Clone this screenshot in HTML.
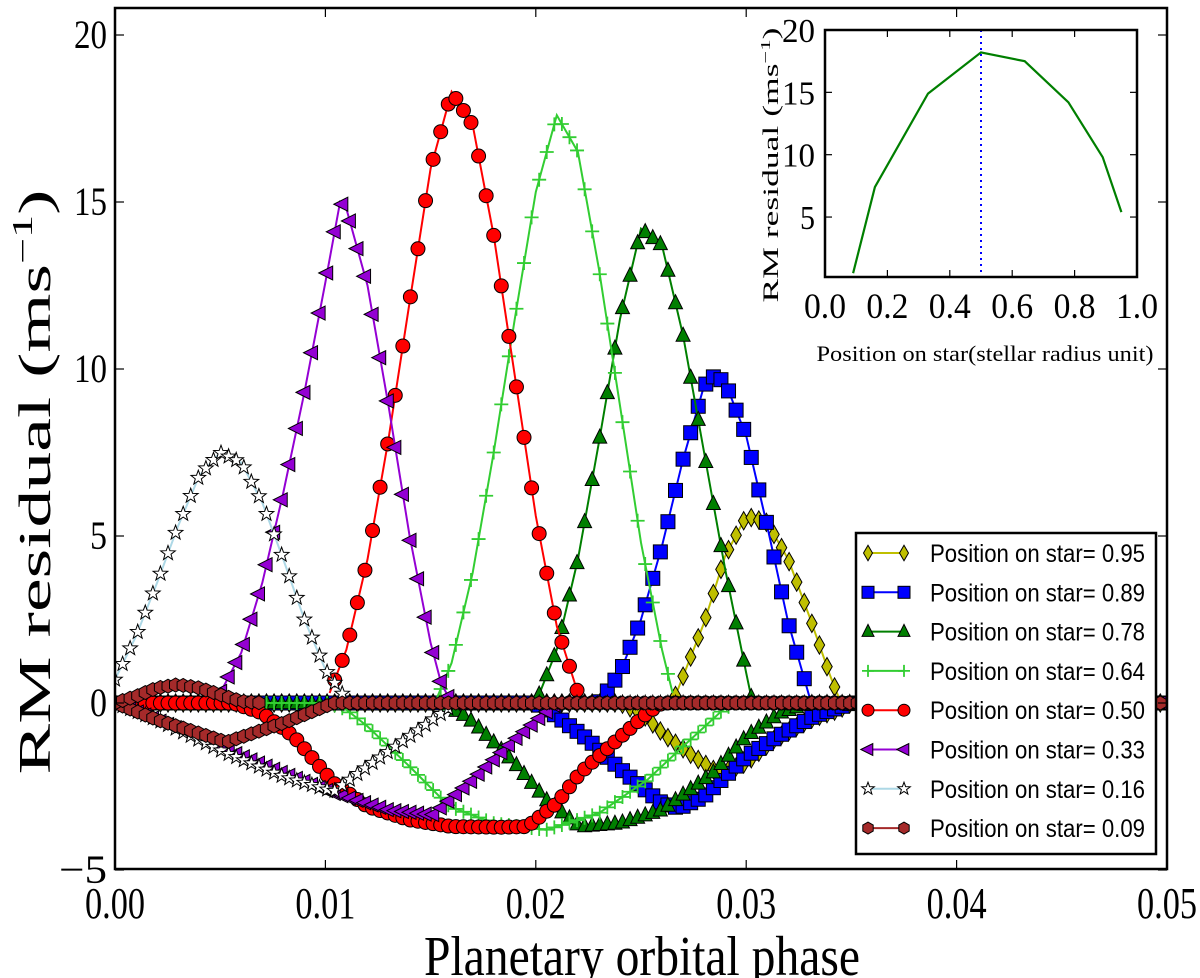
<!DOCTYPE html>
<html><head><meta charset="utf-8"><style>
html,body{margin:0;padding:0;background:#fff;}
svg{display:block;}
</style></head><body>
<svg id="chart" width="1200" height="978" viewBox="0 0 1200 978" xmlns="http://www.w3.org/2000/svg">
<rect x="0" y="0" width="1200" height="978" fill="#fff"/>
<g id="main-series"></g>
<g id="main-axes"></g>
<g id="inset"></g>
<g id="legend"></g>
</svg>
<script>
// ---------- data ----------
const xTicks = [0.00, 0.01, 0.02, 0.03, 0.04, 0.05];
const xTickLabels = ["0.00", "0.01", "0.02", "0.03", "0.04", "0.05"];
const yTicks = [-5, 0, 5, 10, 15, 20];
const yTickLabels = ["\u22125", "0", "5", "10", "15", "20"];

const seriesNames = ["0.95", "0.89", "0.78", "0.64", "0.50", "0.33", "0.16", "0.09"];

const bumpX_095 = [0.0265,0.027,0.028,0.029,0.030,0.031,0.032,0.033,0.034,0.0345];
const bumpY_095 = [0,0.8,2.4,4.4,5.6,5.4,4.3,2.6,0.8,0];
const dipX_095 = [0,0.024,0.025,0.0262,0.0275,0.0287,0.030,0.0313,0.033,0.0344,0.035,0.05];
const dipY_095 = [0,0,-0.3,-1.0,-1.6,-2.1,-1.8,-1.1,-0.5,-0.2,0,0];

const bumpX_089 = [0.023,0.024,0.025,0.026,0.027,0.028,0.0285,0.029,0.030,0.031,0.032,0.033];
const bumpY_089 = [0,0.9,2.5,4.7,7.3,9.5,9.8,9.6,8.0,5.3,2.4,0.2];
const dipX_089 = [0,0.020,0.021,0.0225,0.0237,0.025,0.026,0.0268,0.028,0.030,0.0315,0.0332,0.035,0.05];
const dipY_089 = [0,0,-0.4,-1.1,-1.8,-2.5,-3.0,-3.15,-2.8,-1.6,-1.0,-0.4,0,0];

const bumpX_078 = [0.020,0.021,0.022,0.023,0.024,0.025,0.026,0.027,0.028,0.029,0.030,0.0303];
const bumpY_078 = [0,1.6,4.3,7.8,11.5,14.2,13.7,11.0,7.5,4.0,0.9,0];
const dipX_078 = [0,0.0155,0.0167,0.0174,0.019,0.0205,0.0221,0.024,0.026,0.0284,0.030,0.0316,0.033,0.05];
const dipY_078 = [0,0,-0.4,-0.8,-1.8,-2.9,-3.7,-3.6,-3.2,-2.1,-1.0,-0.3,0,0];

const bumpX_064 = [0.0152,0.016,0.017,0.018,0.019,0.020,0.021,0.022,0.023,0.024,0.025,0.026,0.0265];
const bumpY_064 = [0,1.2,3.9,7.5,11.5,15.3,17.6,16.5,13.0,8.9,4.8,1.6,0.3];
const dipX_064 = [0,0.0101,0.011,0.012,0.014,0.0159,0.018,0.0205,0.023,0.0253,0.027,0.0289,0.0295,0.05];
const dipY_064 = [0,0,-0.2,-0.7,-1.9,-3.1,-3.6,-3.8,-3.3,-2.3,-1.3,-0.2,0,0];

const bumpX_050 = [0.0102,0.011,0.012,0.013,0.014,0.015,0.016,0.017,0.018,0.019,0.020,0.021,0.022];
const bumpY_050 = [0.3,1.6,4.3,7.9,12.0,16.0,18.3,17.3,14.0,9.8,5.6,2.3,0.3];
const dipX_050 = [0,0.0056,0.007,0.0085,0.0104,0.012,0.014,0.016,0.0183,0.0196,0.021,0.0221,0.0237,0.0253,0.026,0.05];
const dipY_050 = [0,0,-0.3,-1.0,-2.4,-3.1,-3.5,-3.7,-3.72,-3.7,-3.0,-2.1,-1.2,-0.3,0,0];

const bumpX_033 = [0.005,0.006,0.007,0.008,0.009,0.010,0.0107,0.011,0.012,0.013,0.014,0.015,0.0155,0.016];
const bumpY_033 = [0.3,1.5,3.6,6.3,9.3,12.6,15.0,14.8,12.5,8.9,5.0,1.8,0.6,0];
const dipX_033 = [0,0.002,0.0053,0.008,0.0104,0.013,0.0151,0.017,0.019,0.021,0.05];
const dipY_033 = [0,-0.5,-1.4,-2.1,-2.7,-3.2,-3.35,-2.3,-1.1,0,0];

const bumpX_016 = [0,0.001,0.002,0.003,0.004,0.005,0.006,0.007,0.008,0.009,0.010,0.011];
const bumpY_016 = [0.7,2.0,3.6,5.3,6.8,7.5,7.2,6.0,4.3,2.5,1.0,0.1];
const dipX_016 = [0,0.002,0.0053,0.008,0.0104,0.012,0.014,0.0162,0.05];
const dipY_016 = [0,-0.5,-1.5,-2.2,-2.65,-1.9,-1.0,0,0];

const bumpX_009 = [0,0.001,0.002,0.003,0.004,0.005,0.006,0.007];
const bumpY_009 = [0,0.2,0.45,0.55,0.45,0.25,0.05,0];
const dipX_009 = [0,0.002,0.0053,0.008,0.0104,0.05];
const dipY_009 = [0,-0.5,-1.17,-0.6,0,0];

// inset data
const insetPositions = [0.09,0.16,0.33,0.50,0.64,0.78,0.89,0.95];
const insetResiduals = [0.5,7.4,14.9,18.2,17.5,14.2,9.8,5.4];
const insetXTicks = [0.0,0.2,0.4,0.6,0.8,1.0];
const insetXTickLabels = ["0.0","0.2","0.4","0.6","0.8","1.0"];
const insetYTicks = [5,10,15,20];
const insetYTickLabels = ["5","10","15","20"];
const insetMarkerLine = 0.5;

// ---------- helpers ----------
const NS = "http://www.w3.org/2000/svg";
function mk(tag, attrs, parent){const e=document.createElementNS(NS,tag);for(const k in attrs)e.setAttribute(k,attrs[k]);if(parent)parent.appendChild(e);return e;}

const PX0=115, PX1=1167, PY_TOP=8, PY_BOT=869;
const XMIN=0, XMAX=0.05;
const yPerUnit = 33.4;
function sx(v){return PX0 + (v-XMIN)/(XMAX-XMIN)*(PX1-PX0);}
function sy(v){return 35 + (20-v)*yPerUnit;}

const styles = {
 "0.95":{color:"#bfbf00",marker:"diamond",mfill:"#bfbf00"},
 "0.89":{color:"#0000ff",marker:"square",mfill:"#0000ff"},
 "0.78":{color:"#007f00",marker:"triup",mfill:"#007f00"},
 "0.64":{color:"#32cd32",marker:"plus",mfill:"#32cd32"},
 "0.50":{color:"#ff0000",marker:"circle",mfill:"#ff0000"},
 "0.33":{color:"#9400d3",marker:"trileft",mfill:"#9400d3"},
 "0.16":{color:"#add8e6",marker:"star",mfill:"#ffffff"},
 "0.09":{color:"#a52a2a",marker:"hexagon",mfill:"#a52a2a"}
};
const dataMap = {
 "0.95":[bumpX_095,bumpY_095,dipX_095,dipY_095],
 "0.89":[bumpX_089,bumpY_089,dipX_089,dipY_089],
 "0.78":[bumpX_078,bumpY_078,dipX_078,dipY_078],
 "0.64":[bumpX_064,bumpY_064,dipX_064,dipY_064],
 "0.50":[bumpX_050,bumpY_050,dipX_050,dipY_050],
 "0.33":[bumpX_033,bumpY_033,dipX_033,dipY_033],
 "0.16":[bumpX_016,bumpY_016,dipX_016,dipY_016],
 "0.09":[bumpX_009,bumpY_009,dipX_009,dipY_009]
};

function drawMarker(g, type, x, y, fill, s){
  let e;
  const st = "#000";
  if(type==="circle"){ e=mk("circle",{cx:x,cy:y,r:s,fill:fill,stroke:st,"stroke-width":1},g); }
  else if(type==="square"){ e=mk("rect",{x:x-s,y:y-s,width:2*s,height:2*s,fill:fill,stroke:st,"stroke-width":1},g); }
  else if(type==="diamond"){ e=mk("polygon",{points:`${x},${y-s*1.3} ${x+s*0.75},${y} ${x},${y+s*1.3} ${x-s*0.75},${y}`,fill:fill,stroke:st,"stroke-width":1},g); }
  else if(type==="triup"){ e=mk("polygon",{points:`${x},${y-s*1.2} ${x+s},${y+s*0.8} ${x-s},${y+s*0.8}`,fill:fill,stroke:st,"stroke-width":1},g); }
  else if(type==="trileft"){ e=mk("polygon",{points:`${x-s*1.2},${y} ${x+s*0.8},${y-s} ${x+s*0.8},${y+s}`,fill:fill,stroke:st,"stroke-width":1},g); }
  else if(type==="plus"){ e=mk("path",{d:`M${x-s},${y}H${x+s}M${x},${y-s}V${y+s}`,stroke:fill,"stroke-width":1.8,fill:"none"},g); }
  else if(type==="hexagon"){ let p=[];for(let i=0;i<6;i++){const a=Math.PI/3*i+Math.PI/6;p.push((x+s*Math.cos(a)).toFixed(1)+","+(y+s*Math.sin(a)).toFixed(1));} e=mk("polygon",{points:p.join(" "),fill:fill,stroke:st,"stroke-width":1},g); }
  else if(type==="star"){ let p=[];for(let i=0;i<10;i++){const r=i%2?s*0.45:s*1.1;const a=-Math.PI/2+Math.PI/5*i;p.push((x+r*Math.cos(a)).toFixed(1)+","+(y+r*Math.sin(a)).toFixed(1));} e=mk("polygon",{points:p.join(" "),fill:fill,stroke:st,"stroke-width":1},g); }
  return e;
}

function interp(xs, ys, x){
  for(let i=0;i<xs.length-1;i++){ if(x>=xs[i] && x<=xs[i+1]){const t=(xs[i+1]===xs[i])?0:(x-xs[i])/(xs[i+1]-xs[i]);return ys[i]+t*(ys[i+1]-ys[i]);} }
  return null;
}

// ---------- main series ----------
const gS = document.getElementById("main-series");
const clipDef = mk("defs",{},gS);
const cp = mk("clipPath",{id:"plotclip"},clipDef);
mk("rect",{x:PX0,y:PY_TOP,width:PX1-PX0,height:PY_BOT-PY_TOP},cp);
const gClip = mk("g",{"clip-path":"url(#plotclip)"},gS);
const STEP = 0.00036;
seriesNames.forEach(name=>{
  const st = styles[name];
  const [bx,by,dx,dy] = dataMap[name];
  const g = mk("g",{},gClip);
  
  
  [[dx,dy,"dip"],[bx,by,"bump"]].forEach(([xs,ys,part])=>{
    const d = xs.map((v,i)=>(i?"L":"M")+sx(v).toFixed(1)+","+sy(ys[i]).toFixed(1)).join("");
    const line = mk("path",{d:d,fill:"none",stroke:st.color,"stroke-width":2},g);
    
    
    const mg = mk("g",{},g);
    
    
    const x0 = xs[0], x1 = xs[xs.length-1];
    for(let x = Math.ceil(x0/STEP)*STEP; x<=x1+1e-9; x+=STEP){
      const y = interp(xs,ys,x);
      if(y===null) continue;
      drawMarker(mg, st.marker, sx(x), sy(y), st.mfill, 7);
    }
  });
});

// ---------- main axes ----------
const gA = document.getElementById("main-axes");
const frame = mk("rect",{x:PX0,y:PY_TOP,width:PX1-PX0,height:PY_BOT-PY_TOP,fill:"none",stroke:"#000","stroke-width":2.5},gA);


xTicks.forEach((v,i)=>{
  const x = sx(v);
  mk("line",{x1:x,y1:PY_BOT,x2:x,y2:PY_BOT-9,stroke:"#000","stroke-width":1.2},gA);
  mk("line",{x1:x,y1:PY_TOP,x2:x,y2:PY_TOP+9,stroke:"#000","stroke-width":1.2},gA);
  const t = mk("text",{x:x,y:918,"text-anchor":"middle","font-family":"Liberation Serif, serif","font-size":44,textLength:60,lengthAdjust:"spacingAndGlyphs"},gA);
  t.textContent = xTickLabels[i];
  
  
});
yTicks.forEach((v,i)=>{
  const y = sy(v);
  mk("line",{x1:PX0,y1:y,x2:PX0+9,y2:y,stroke:"#000","stroke-width":1.2},gA);
  mk("line",{x1:PX1,y1:y,x2:PX1-9,y2:y,stroke:"#000","stroke-width":1.2},gA);
  const lbl = yTickLabels[i];
  const t = mk("text",{x:107,y:y+13,"text-anchor":"end","font-family":"Liberation Serif, serif","font-size":40,textLength:lbl.length>1?(lbl==="\u22125"?48:33):17,lengthAdjust:"spacingAndGlyphs"},gA);
  t.textContent = lbl;
  
  
});
const xt = mk("text",{x:642,y:975,"text-anchor":"middle","font-family":"Liberation Serif, serif","font-size":56,textLength:436,lengthAdjust:"spacingAndGlyphs"},gA);
xt.textContent = "Planetary orbital phase";


const yt = mk("text",{x:0,y:0,"text-anchor":"middle","font-family":"Liberation Serif, serif","font-size":46,textLength:585,lengthAdjust:"spacingAndGlyphs",transform:"translate(50,482) rotate(-90)"},gA);
yt.innerHTML = 'RM residual (ms<tspan font-size="28" dy="-18">\u22121</tspan><tspan dy="18">)</tspan>';



// ---------- inset ----------
const gI = document.getElementById("inset");


const IX0=825, IX1=1137, IY0=30, IY1=277;
function ix(v){return IX0 + v*(IX1-IX0);}
function iy(v){return IY0 + (20-v)*12.47;}
mk("rect",{x:IX0,y:IY0,width:IX1-IX0,height:IY1-IY0,fill:"#fff",stroke:"none"},gI);
const il = mk("polyline",{points:insetPositions.map((p,i)=>ix(p).toFixed(1)+","+iy(insetResiduals[i]).toFixed(1)).join(" "),fill:"none",stroke:"#007f00","stroke-width":2.2},gI);


const vl = mk("line",{x1:ix(insetMarkerLine),y1:IY0,x2:ix(insetMarkerLine),y2:IY1,stroke:"#0000ff","stroke-width":2,"stroke-dasharray":"2,4"},gI);


const iframe = mk("rect",{x:IX0,y:IY0,width:IX1-IX0,height:IY1-IY0,fill:"none",stroke:"#000","stroke-width":2.5},gI);


insetXTicks.forEach((v,i)=>{
  const x = ix(v);
  mk("line",{x1:x,y1:IY1,x2:x,y2:IY1-7,stroke:"#000","stroke-width":1.2},gI);
  mk("line",{x1:x,y1:IY0,x2:x,y2:IY0+7,stroke:"#000","stroke-width":1.2},gI);
  const t = mk("text",{x:x,y:318,"text-anchor":"middle","font-family":"Liberation Serif, serif","font-size":36,textLength:42,lengthAdjust:"spacingAndGlyphs"},gI);
  t.textContent = insetXTickLabels[i];
  
  
});
insetYTicks.forEach((v,i)=>{
  const y = iy(v);
  mk("line",{x1:IX0,y1:y,x2:IX0+7,y2:y,stroke:"#000","stroke-width":1.2},gI);
  mk("line",{x1:IX1,y1:y,x2:IX1-7,y2:y,stroke:"#000","stroke-width":1.2},gI);
  const lbl = insetYTickLabels[i];
  const t = mk("text",{x:815,y:y+12,"text-anchor":"end","font-family":"Liberation Serif, serif","font-size":34,textLength:lbl.length>1?33:15,lengthAdjust:"spacingAndGlyphs"},gI);
  t.textContent = lbl;
  
  
});
const ixt = mk("text",{x:985,y:361,"text-anchor":"middle","font-family":"Liberation Serif, serif","font-size":22,textLength:337,lengthAdjust:"spacingAndGlyphs"},gI);
ixt.textContent = "Position on star(stellar radius unit)";


const iyt = mk("text",{x:0,y:0,"text-anchor":"middle","font-family":"Liberation Serif, serif","font-size":22,textLength:275,lengthAdjust:"spacingAndGlyphs",transform:"translate(778,165) rotate(-90)"},gI);
iyt.innerHTML = 'RM residual (ms<tspan font-size="14" dy="-8">\u22121</tspan><tspan dy="8">)</tspan>';



// ---------- legend ----------
const gL = document.getElementById("legend");


mk("rect",{x:856,y:533,width:300,height:321,fill:"#fff",stroke:"#000","stroke-width":2.5},gL);
seriesNames.forEach((name,i)=>{
  const st = styles[name];
  const y = 553 + i*39.3;
  const eg = mk("g",{},gL);
  
  
  mk("line",{x1:868,y1:y,x2:904,y2:y,stroke:st.color,"stroke-width":2},eg);
  drawMarker(eg, st.marker, 868, y, st.mfill, 6);
  drawMarker(eg, st.marker, 904, y, st.mfill, 6);
  const t = mk("text",{x:930,y:y+9,"font-family":"Liberation Sans, sans-serif","font-size":25,textLength:215,lengthAdjust:"spacingAndGlyphs"},eg);
  t.textContent = "Position on star= " + name;
});
</script>
</body></html>
